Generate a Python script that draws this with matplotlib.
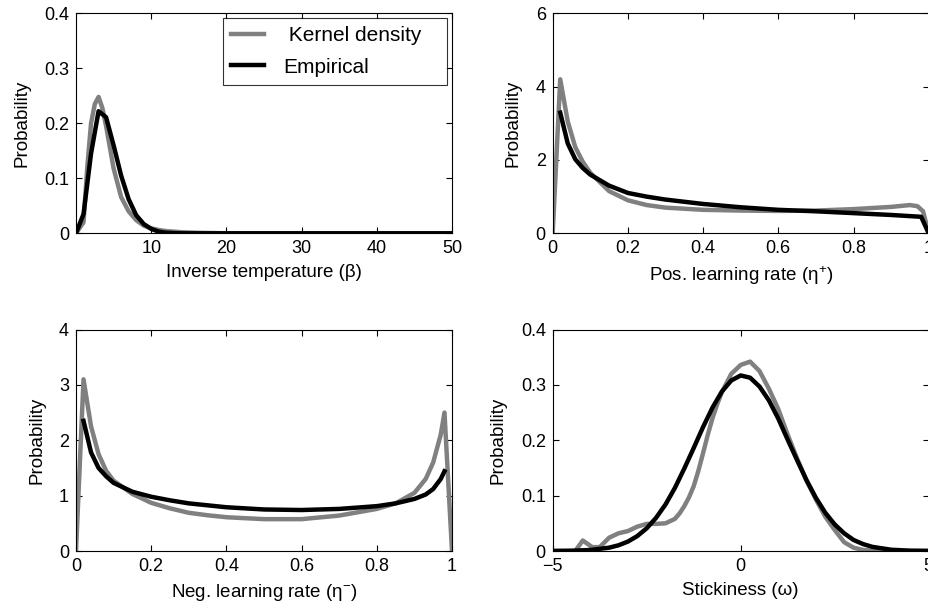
import matplotlib
matplotlib.use('Agg')
import matplotlib.pyplot as plt

plt.rcParams['font.family'] = ['Liberation Sans', 'DejaVu Sans']
plt.rcParams['mathtext.fontset'] = 'custom'
plt.rcParams['mathtext.rm'] = 'Liberation Sans'
plt.rcParams['mathtext.it'] = 'Liberation Sans'
plt.rcParams['mathtext.default'] = 'regular'

GRAY = '#808080'

# inverse temperature (beta)
beta_kde_x = [0, 1, 1.5, 2, 2.5, 3, 3.5, 4, 5, 6, 7, 8, 9, 10, 11, 12, 13, 14, 16, 20, 50]
beta_kde_y = [0, 0.02, 0.12, 0.2, 0.235, 0.248, 0.228, 0.195, 0.118, 0.066, 0.04, 0.024,
              0.014, 0.009, 0.006, 0.004, 0.003, 0.002, 0.001, 0, 0]
beta_emp_x = [0, 1, 2, 3, 4, 5, 6, 7, 8, 9, 10, 11, 12, 14, 50]
beta_emp_y = [0, 0.035, 0.145, 0.222, 0.211, 0.16, 0.105, 0.062, 0.033, 0.017, 0.008,
              0.003, 0.001, 0, 0]

# positive learning rate
pos_kde_x = [0, 0.02, 0.04, 0.06, 0.08, 0.1, 0.15, 0.2, 0.25, 0.3, 0.4, 0.5, 0.6, 0.7,
             0.8, 0.9, 0.95, 0.97, 0.985, 1.0]
pos_kde_y = [0, 4.2, 3.05, 2.35, 1.95, 1.65, 1.15, 0.9, 0.77, 0.7, 0.64, 0.62, 0.61, 0.62,
             0.66, 0.72, 0.77, 0.74, 0.6, 0]
pos_emp_x = [0.02, 0.04, 0.06, 0.08, 0.1, 0.15, 0.2, 0.25, 0.3, 0.4, 0.5, 0.6, 0.7, 0.8,
             0.9, 0.98, 1.0]
pos_emp_y = [3.29, 2.45, 2.02, 1.78, 1.6, 1.3, 1.1, 1.0, 0.92, 0.8, 0.71, 0.64, 0.6, 0.55,
             0.5, 0.45, 0]

# negative learning rate
neg_kde_x = [0, 0.02, 0.04, 0.06, 0.08, 0.1, 0.15, 0.2, 0.25, 0.3, 0.35, 0.4, 0.5, 0.6,
             0.7, 0.8, 0.85, 0.9, 0.93, 0.95, 0.97, 0.98, 1.0]
neg_kde_y = [0, 3.1, 2.25, 1.75, 1.45, 1.27, 1.03, 0.87, 0.77, 0.69, 0.645, 0.61, 0.575,
             0.575, 0.64, 0.76, 0.86, 1.05, 1.3, 1.6, 2.1, 2.5, 0]
neg_emp_x = [0.02, 0.04, 0.06, 0.08, 0.1, 0.15, 0.2, 0.25, 0.3, 0.4, 0.5, 0.6, 0.7, 0.8,
             0.85, 0.9, 0.93, 0.95, 0.97, 0.98]
neg_emp_y = [2.35, 1.78, 1.5, 1.35, 1.23, 1.07, 0.98, 0.915, 0.86, 0.79, 0.75, 0.74, 0.76,
             0.81, 0.86, 0.94, 1.02, 1.12, 1.3, 1.44]

# stickiness (omega)
stick_kde_x = [-5, -4.75, -4.5, -4.4, -4.2, -3.95, -3.75, -3.5, -3.25, -3.0, -2.75, -2.5,
               -2.25, -2.0, -1.75, -1.625, -1.5, -1.375, -1.25, -1.125, -1.0, -0.875, -0.75,
               -0.625, -0.5, -0.25, 0, 0.25, 0.5, 0.75, 1.0, 1.25, 1.5, 1.75, 2.0, 2.25,
               2.5, 2.75, 3.0, 3.25, 3.5, 3.75, 5]
stick_kde_y = [0, 0, 0, 0, 0.019, 0.007, 0.007, 0.024, 0.032, 0.036, 0.044, 0.049,
               0.049, 0.05, 0.058, 0.068, 0.081, 0.097, 0.117, 0.145, 0.177, 0.21, 0.24,
               0.265, 0.287, 0.32, 0.336, 0.342, 0.325, 0.293, 0.256, 0.21, 0.167, 0.127,
               0.093, 0.062, 0.038, 0.016, 0.006, 0.002, 0.0005, 0, 0]
stick_emp_x = [-5, -4.5, -4, -3.5, -3.25, -3, -2.75, -2.5, -2.25, -2, -1.75, -1.5, -1.25,
               -1, -0.75, -0.5, -0.25, 0, 0.25, 0.5, 0.75, 1, 1.25, 1.5, 1.75, 2, 2.25,
               2.5, 2.75, 3, 3.25, 3.5, 4, 4.5, 5]
stick_emp_y = [0.0001, 0.0005, 0.0018, 0.006, 0.0103, 0.017, 0.027, 0.041, 0.06, 0.084,
               0.114, 0.149, 0.186, 0.224, 0.259, 0.288, 0.308, 0.317, 0.313, 0.297, 0.272,
               0.239, 0.201, 0.164, 0.128, 0.096, 0.069, 0.048, 0.032, 0.02, 0.0126,
               0.0075, 0.0023, 0.0006, 0.0002]


def style_axes(ax, xlim, ylim, xticks, yticks, xlabel):
    ax.set_xlim(xlim)
    ax.set_ylim(ylim)
    ax.set_xticks(xticks)
    ax.set_yticks(yticks)
    ax.set_yticklabels([('%g' % t) for t in yticks])
    ax.tick_params(direction='in', top=True, right=True, length=4, width=0.8,
                   labelsize=13, pad=5)
    for s in ax.spines.values():
        s.set_linewidth(0.8)
    ax.set_xlabel(xlabel, fontsize=13.5, labelpad=5)
    ax.set_ylabel('Probability', fontsize=13.5, labelpad=10)


def panel(fig, rect, kx, ky, ex, ey):
    ax = fig.add_axes(rect)
    ax.plot(kx, ky, color=GRAY, lw=3.2, label=' Kernel density   ', solid_joinstyle='round')
    ax.plot(ex, ey, color='black', lw=3.2, label='Empirical', solid_joinstyle='round')
    return ax


fig = plt.figure(figsize=(9.29, 6.10), dpi=100)
w = 376 / 929
h_top = 220 / 610
h_bot = 221.5 / 610

ax1 = panel(fig, [76 / 929, 376.7 / 610, w, h_top], beta_kde_x, beta_kde_y, beta_emp_x, beta_emp_y)
style_axes(ax1, (0, 50), (0, 0.4), [10, 20, 30, 40, 50], [0, 0.1, 0.2, 0.3, 0.4],
           'Inverse temperature (β)')
leg = ax1.legend(loc='upper right', bbox_to_anchor=(0.987, 0.979), fontsize=15,
                 frameon=True, fancybox=False, borderpad=0.4, handlelength=1.6,
                 handletextpad=0.9, labelspacing=0.6, borderaxespad=0)
leg.get_frame().set_edgecolor('black')
leg.get_frame().set_linewidth(0.8)

ax2 = panel(fig, [552.7 / 929, 376.7 / 610, w, h_top], pos_kde_x, pos_kde_y, pos_emp_x, pos_emp_y)
style_axes(ax2, (0, 1), (0, 6), [0, 0.2, 0.4, 0.6, 0.8, 1], [0, 2, 4, 6],
           'Pos. learning rate (η$^{+}$)')

ax3 = panel(fig, [76 / 929, 59 / 610, w, h_bot], neg_kde_x, neg_kde_y, neg_emp_x, neg_emp_y)
style_axes(ax3, (0, 1), (0, 4), [0, 0.2, 0.4, 0.6, 0.8, 1], [0, 1, 2, 3, 4],
           'Neg. learning rate (η$^{-}$)')

ax4 = panel(fig, [552.7 / 929, 59 / 610, w, h_bot], stick_kde_x, stick_kde_y, stick_emp_x, stick_emp_y)
style_axes(ax4, (-5, 5), (0, 0.4), [-5, 0, 5], [0, 0.1, 0.2, 0.3, 0.4],
           'Stickiness (ω)')

for ax in [ax1, ax2, ax3]:
    ax.set_xticklabels([('%g' % t) for t in ax.get_xticks()])

fig.savefig('out.png', dpi=100)
